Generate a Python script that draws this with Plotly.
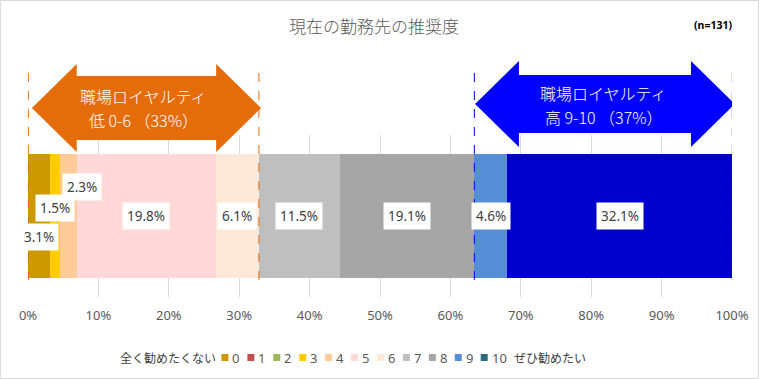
import plotly.graph_objects as go

# ---------------- data ----------------
categories = ["0", "1", "2", "3", "4", "5", "6", "7", "8", "9", "10"]
values = [3.1, 0, 0, 1.5, 2.3, 19.8, 6.1, 11.5, 19.1, 4.6, 32.1]
bar_colors = ["#CC9900", "#C0504D", "#9BBB59", "#FFCC00", "#FFCC99", "#FFD9DA",
              "#FDE9D9", "#BFBFBF", "#A6A6A6", "#558ED5", "#0000CC"]
legend_colors = ["#CC9900", "#C0504D", "#9BBB59", "#FFCC00", "#FFCC99", "#FFD9DA",
                 "#FDE9D9", "#BFBFBF", "#A6A6A6", "#558ED5", "#2C6C7A"]
x_ticks = [0, 10, 20, 30, 40, 50, 60, 70, 80, 90, 100]
tick_labels = [f"{t}%" for t in x_ticks]
title_text = "現在の勤務先の推奨度"
n_text = "(n=131)"
legend_left = "全く勧めたくない"
legend_right = "ぜひ勧めたい"
low_group = ["0", "1", "2", "3", "4", "5", "6"]
high_group = ["9", "10"]
low_text = ["職場ロイヤルティ", "低 0-6 （33%）"]
high_text = ["職場ロイヤルティ", "高 9-10 （37%）"]

# ---------------- layout geometry ----------------
W, H = 761, 379
ML, MR, MT, MB = 28, 27, 135, 82
PW, PH = W - ML - MR, H - MT - MB
FONT = "Noto Sans, Noto Sans CJK JP, sans-serif"
JFONT = "Noto Sans CJK JP, sans-serif"


def pxx(px):
    return (px - ML) / PW


def pxy(py):
    return (H - MB - py) / PH


fig = go.Figure()

starts = []
acc = 0.0
for v in values:
    starts.append(acc)
    acc += v

for c, v, col in zip(categories, values, bar_colors):
    fig.add_trace(go.Bar(
        x=[v], y=[0], orientation="h", width=0.76, name=c,
        marker=dict(color=col, line=dict(width=0)), showlegend=False,
        hovertemplate=c + ": %{x}%<extra></extra>"))

# data labels (some moved, as in the original)
label_shift = {"0": (0, -21), "3": (0, 8), "4": (14, 29)}
annotations = []
for c, v, s in zip(categories, values, starts):
    if v <= 0:
        continue
    dx, dy = label_shift.get(c, (0, 0))
    annotations.append(dict(
        x=s + v / 2, y=0, xref="x", yref="y", text=f"{v:.1f}%", showarrow=False,
        xshift=dx, yshift=dy, bgcolor="white", borderpad=4,
        font=dict(family=FONT, size=13.5, color="#404040")))

# group boundaries
idx = {c: i for i, c in enumerate(categories)}
low_start = starts[idx[low_group[0]]]
low_end = starts[idx[low_group[-1]]] + values[idx[low_group[-1]]]
high_start = starts[idx[high_group[0]]]
high_end = starts[idx[high_group[-1]]] + values[idx[high_group[-1]]]

shapes = []
unit = PW / 100.0  # px per data unit


def arrow(x0, x1, tip_py, head_half, shaft_half, head_len, color):
    hl = head_len / unit
    pts = [
        (x0, pxy(tip_py)),
        (x0 + hl, pxy(tip_py - head_half)),
        (x0 + hl, pxy(tip_py - shaft_half)),
        (x1 - hl, pxy(tip_py - shaft_half)),
        (x1 - hl, pxy(tip_py - head_half)),
        (x1, pxy(tip_py)),
        (x1 - hl, pxy(tip_py + head_half)),
        (x1 - hl, pxy(tip_py + shaft_half)),
        (x0 + hl, pxy(tip_py + shaft_half)),
        (x0 + hl, pxy(tip_py + head_half)),
    ]
    path = "M " + " L ".join(f"{a},{b}" for a, b in pts) + " Z"
    return dict(type="path", xref="x", yref="paper", path=path,
                fillcolor=color, line=dict(width=0), layer="above")


ORANGE = "#E46C0A"
BLUE = "#0000FF"

shapes.append(arrow(low_start + 0.55, low_end + 0.3, 108, 44, 32, 45, ORANGE))
shapes.append(arrow(high_start + 0.1, high_end + 0.3, 104, 43, 29, 44, BLUE))

for xv, col in [(low_start + 0.05, ORANGE), (low_end, ORANGE),
                (high_start, BLUE), (high_end - 0.05, BLUE)]:
    shapes.append(dict(type="line", xref="x", yref="paper", x0=xv, x1=xv,
                       y0=pxy(280), y1=pxy(66),
                       line=dict(color=col, width=1, dash="dash"), layer="above"))

low_mid = (low_start + low_end) / 2
high_mid = (high_start + high_end) / 2
for mid, lines, ys in [(low_mid, low_text, (95.5, 119.5)), (high_mid, high_text, (93, 117))]:
    for t, yy in zip(lines, ys):
        annotations.append(dict(x=mid, y=pxy(yy), xref="x", yref="paper", text=t,
                                showarrow=False,
                                font=dict(family=JFONT, size=16, color="white", weight=300),
                                xanchor="center", yanchor="middle"))

# title and n
annotations.append(dict(x=pxx(375), y=pxy(25), xref="paper", yref="paper", text=title_text,
                        showarrow=False, font=dict(family=JFONT, size=17, color="#595959", weight=300),
                        xanchor="center", yanchor="middle"))
annotations.append(dict(x=pxx(715), y=pxy(25), xref="paper", yref="paper", text="<b>" + n_text + "</b>",
                        showarrow=False, font=dict(family=FONT, size=10.5, color="#000000"),
                        xanchor="center", yanchor="middle"))

# legend (custom, compact as in the original)
LEG_Y = 357.5
LEG_X0 = 222
STEP = 26
annotations.append(dict(x=pxx(LEG_X0 - 3), y=pxy(LEG_Y), xref="paper", yref="paper", text=legend_left,
                        showarrow=False, font=dict(family=JFONT, size=12, color="#404040"),
                        xanchor="right", yanchor="middle"))
for i, (c, col) in enumerate(zip(categories, legend_colors)):
    x0 = LEG_X0 + STEP * i
    shapes.append(dict(type="rect", xref="paper", yref="paper",
                       x0=pxx(x0), x1=pxx(x0 + 7), y0=pxy(LEG_Y + 3.5), y1=pxy(LEG_Y - 3.5),
                       fillcolor=col, line=dict(width=0)))
    annotations.append(dict(x=pxx(x0 + 9), y=pxy(LEG_Y), xref="paper", yref="paper", text=c,
                            showarrow=False, font=dict(family=FONT, size=13, color="#595959"),
                            xanchor="left", yanchor="middle"))
annotations.append(dict(x=pxx(LEG_X0 + STEP * 10 + 31), y=pxy(LEG_Y), xref="paper", yref="paper",
                        text=legend_right, showarrow=False,
                        font=dict(family=JFONT, size=12, color="#404040"),
                        xanchor="left", yanchor="middle"))

# outer border
shapes.append(dict(type="rect", xref="paper", yref="paper",
                   x0=pxx(0.5), x1=pxx(W - 0.5), y0=pxy(H - 0.5), y1=pxy(0.5),
                   line=dict(color="#D9D9D9", width=1), fillcolor="rgba(0,0,0,0)", layer="below"))

fig.update_layout(
    width=W, height=H,
    margin=dict(l=ML, r=MR, t=MT, b=MB, pad=0),
    barmode="stack",
    plot_bgcolor="white", paper_bgcolor="white",
    showlegend=False,
    shapes=shapes, annotations=annotations,
    xaxis=dict(range=[0, 100], tickvals=x_ticks, ticktext=tick_labels,
               showgrid=True, gridcolor="#D9D9D9", gridwidth=1, zeroline=False,
               showline=False, ticks="", ticklabelstandoff=9,
               tickfont=dict(family=FONT, size=13, color="#595959"), fixedrange=True),
    yaxis=dict(range=[-0.5, 0.5], visible=False, fixedrange=True),
)

fig.write_html("out.html", config={"displayModeBar": False},
               post_script="document.body.style.margin='0';document.body.style.overflow='hidden';")
